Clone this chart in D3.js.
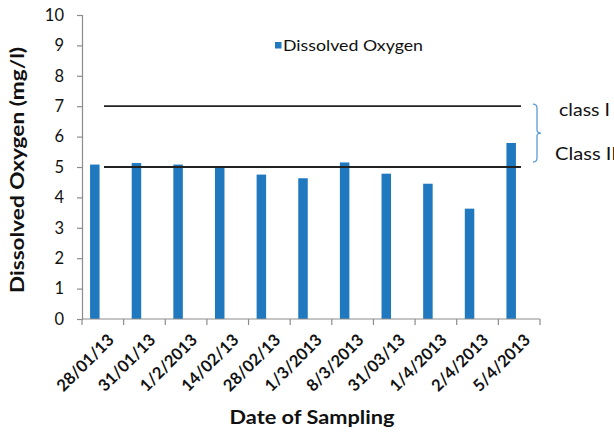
<!DOCTYPE html>
<html>
<head>
<meta charset="utf-8">
<script src="https://cdn.jsdelivr.net/npm/d3@7"></script>
<style>
  html, body { margin: 0; padding: 0; background: #fff; }
  svg { display: block; font-family: Lato, "Open Sans", sans-serif; }
</style>
</head>
<body>
<svg id="chart" width="614" height="433"></svg>
<script>
// Sampling dates and dissolved oxygen readings (mg/l)
const dates = ["28/01/13", "31/01/13", "1/2/2013", "14/02/13", "28/02/13", "1/3/2013",
               "8/3/2013", "31/03/13", "1/4/2013", "2/4/2013", "5/4/2013"];
const oxygen = [5.08, 5.13, 5.08, 5.0, 4.75, 4.63, 5.15, 4.78, 4.45, 3.63, 5.79];
const yTicks = [0, 1, 2, 3, 4, 5, 6, 7, 8, 9, 10];
// Water-quality class limits
const classLimits = [7, 5];
const classLabels = ["class I", "Class II"];

const svg = d3.select("#chart");
const plotLeft = 82, plotRight = 540, plotTop = 15, plotBottom = 319;

const x = d3.scaleBand().domain(dates).range([plotLeft, plotRight]).paddingInner(0).paddingOuter(0);
const y = d3.scaleLinear().domain([0, 10]).range([plotBottom, plotTop]);

const axisColor = "#8c8c8c";
const barColor = "#2079bf";

// Bars (first slot of a two-slot cluster)
const barW = 9.5;
const barOffset = -8;
svg.append("g").selectAll("rect")
  .data(oxygen)
  .join("rect")
  .attr("x", (d, i) => x(dates[i]) + x.bandwidth() / 2 + barOffset - barW / 2)
  .attr("y", d => y(d))
  .attr("width", barW)
  .attr("height", d => y(0) - y(d))
  .attr("fill", barColor);

// Y axis
const yAxis = svg.append("g")
  .attr("transform", `translate(${plotLeft},0)`)
  .call(d3.axisLeft(y).tickValues(yTicks).tickSize(5).tickPadding(13).tickFormat(d3.format("d")));
yAxis.select(".domain").attr("stroke", axisColor).attr("stroke-width", 1.2);
yAxis.selectAll(".tick line").attr("stroke", axisColor).attr("stroke-width", 1.2);
yAxis.selectAll(".tick text")
  .attr("fill", "#111").attr("font-size", 16.5).attr("font-family", "Lato, sans-serif");

// X axis with ticks at the band boundaries
const xAxis = svg.append("g").attr("transform", `translate(0,${plotBottom})`);
xAxis.append("line").attr("x1", plotLeft).attr("x2", plotRight)
  .attr("stroke", axisColor).attr("stroke-width", 1.2);
const bounds = dates.map(d => x(d)).concat([plotRight]);
xAxis.selectAll("line.tk").data(bounds).join("line").attr("class", "tk")
  .attr("x1", d => d).attr("x2", d => d).attr("y1", 0).attr("y2", 6)
  .attr("stroke", axisColor).attr("stroke-width", 1.2);
xAxis.selectAll("text").data(dates).join("text")
  .attr("transform", d => `translate(${x(d) + x.bandwidth() / 2 + 8},${18}) rotate(-45)`)
  .attr("text-anchor", "end")
  .attr("dy", "0.35em")
  .attr("font-size", 16.5)
  .attr("font-weight", "bold")
  .attr("fill", "#111")
  .text(d => d);

// Class limit lines
svg.append("g").selectAll("line")
  .data(classLimits)
  .join("line")
  .attr("x1", 104).attr("x2", 521)
  .attr("y1", d => y(d)).attr("y2", d => y(d))
  .attr("stroke", "#222").attr("stroke-width", 1.8);

// Brace spanning the two limits
const bx = 533, yTop = y(classLimits[0]) - 2, yBot = y(classLimits[1]) - 5, yMid = (yTop + yBot) / 2;
svg.append("path")
  .attr("d", `M${bx},${yTop} Q${bx + 4},${yTop} ${bx + 4},${yTop + 4} L${bx + 4},${yMid - 3} Q${bx + 4},${yMid} ${bx + 8},${yMid} Q${bx + 4},${yMid} ${bx + 4},${yMid + 3} L${bx + 4},${yBot - 4} Q${bx + 4},${yBot} ${bx},${yBot}`)
  .attr("fill", "none").attr("stroke", "#5b9bd5").attr("stroke-width", 1.3);

svg.append("g").selectAll("text")
  .data(classLabels)
  .join("text")
  .attr("x", (d, i) => i === 0 ? 559 : 555)
  .attr("y", (d, i) => i === 0 ? 110 : 154)
  .attr("dy", "0.35em")
  .attr("font-size", 17)
  .attr("fill", "#111")
  .attr("textLength", (d, i) => i === 0 ? 51 : 62)
  .attr("lengthAdjust", "spacingAndGlyphs")
  .text(d => d);

// Legend
svg.append("rect").attr("x", 275).attr("y", 42).attr("width", 6.5).attr("height", 6.5).attr("fill", barColor);
svg.append("text").attr("x", 283).attr("y", 46).attr("dy", "0.35em")
  .attr("font-size", 15).attr("fill", "#111")
  .attr("textLength", 140).attr("lengthAdjust", "spacingAndGlyphs")
  .text("Dissolved Oxygen");

// Axis titles
svg.append("text")
  .attr("transform", `translate(18,170) rotate(-90)`)
  .attr("text-anchor", "middle").attr("dy", "0.35em")
  .attr("font-size", 18).attr("font-weight", "bold").attr("fill", "#111")
  .attr("textLength", 246).attr("lengthAdjust", "spacingAndGlyphs")
  .text("Dissolved Oxygen (mg/l)");
svg.append("text")
  .attr("x", 312).attr("y", 418).attr("text-anchor", "middle").attr("dy", "0.35em")
  .attr("font-size", 18).attr("font-weight", "bold").attr("fill", "#111")
  .attr("textLength", 165).attr("lengthAdjust", "spacingAndGlyphs")
  .text("Date of Sampling");
</script>
</body>
</html>
